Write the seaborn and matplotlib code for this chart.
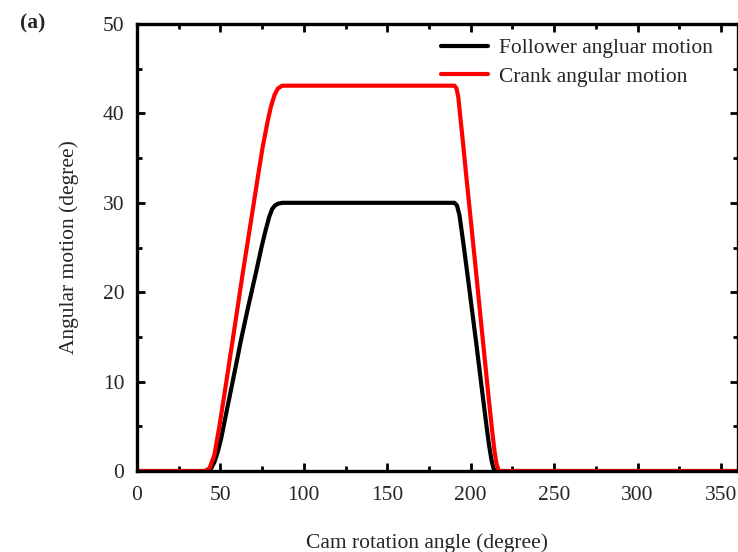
import pandas as pd
import matplotlib.pyplot as plt
import seaborn as sns
from matplotlib.ticker import MultipleLocator

# values
follower_angle = [0, 42.5, 44.5, 46.4, 48.5, 50.4, 54.4, 59.3, 62.5, 66.7, 71.2, 74.6, 77.2, 79.2,
                  81.0, 82.7, 84.5, 87.1,
                  190.3, 191.8, 193.3, 195.6, 198.2, 203.2, 207.1, 209.5, 211.1, 212.5, 213.7, 214.7, 360]
follower_motion = [0, 0, 0.3, 1.0, 2.2, 3.6, 7.3, 11.8, 14.8, 18.4, 22.1, 25.0, 27.0, 28.4,
                   29.3, 29.7, 29.9, 30.0,
                   30.0, 29.7, 28.6, 25.5, 21.8, 14.5, 8.6, 5.0, 2.8, 1.2, 0.3, 0, 0]

crank_angle = [0, 40.5, 43.5, 46.4, 49.4, 53.4, 58.3, 63.3, 69.2, 72.2, 75.2, 78.2, 80.2, 82.5, 84.5, 87.0,
               190.3, 191.5, 192.6, 193.8, 195.3, 197.2, 200.2, 203.2, 207.1, 211.1, 213.0, 214.3,
               215.5, 216.5, 217.1, 360]
crank_motion = [0, 0, 0.3, 1.8, 5.0, 9.8, 15.8, 22.0, 29.0, 32.6, 36.1, 39.0, 40.7, 42.1, 42.8, 43.1,
                43.1, 42.8, 41.8, 39.6, 36.9, 33.3, 27.8, 22.3, 15.0, 7.6, 4.3, 2.2,
                0.8, 0.2, 0, 0]

labels = ['Follower angluar motion', 'Crank angular motion']

df = pd.concat([
    pd.DataFrame({'angle': follower_angle, 'motion': follower_motion, 'series': labels[0]}),
    pd.DataFrame({'angle': crank_angle, 'motion': crank_motion, 'series': labels[1]}),
])

sns.set_style('ticks')
plt.rcParams['font.family'] = ['Liberation Serif', 'DejaVu Serif']
fs = 15.5

fig = plt.figure(figsize=(7.38, 5.52), dpi=100)
ax = fig.add_axes([0.1856, 0.1467, 0.8139, 0.8098])

sns.lineplot(data=df, x='angle', y='motion', hue='series', palette=['black', '#ff0000'],
             sort=False, estimator=None, linewidth=3, ax=ax)

ax.set_xlim(0, 360)
ax.set_ylim(0, 50)
ax.xaxis.set_major_locator(MultipleLocator(50))
ax.xaxis.set_minor_locator(MultipleLocator(25))
ax.yaxis.set_major_locator(MultipleLocator(10))
ax.yaxis.set_minor_locator(MultipleLocator(5))
ax.tick_params(which='both', direction='in', top=True, right=True, width=2, labelsize=fs, color='black')
ax.tick_params(which='major', length=6)
ax.tick_params(which='minor', length=3.5)
ax.tick_params(axis='x', which='major', pad=11)
ax.tick_params(axis='y', which='major', pad=9)
for s in ax.spines.values():
    s.set_linewidth(2.4)
    s.set_color('black')

ax.set_xlabel('Cam rotation angle (degree)', fontsize=fs, labelpad=20)
ax.xaxis.label.set_x(0.483)
ax.set_ylabel('Angular motion (degree)', fontsize=fs, labelpad=17)

ax.legend(loc='upper right', frameon=False, fontsize=fs, handlelength=2.2, handletextpad=0.5,
          labelspacing=0.4, borderaxespad=0.25, bbox_to_anchor=(0.982, 1.0))

fig.text(0.027, 0.958, '(a)', fontsize=fs, fontweight='bold', va='center')

fig.savefig('out.png', dpi=100)
